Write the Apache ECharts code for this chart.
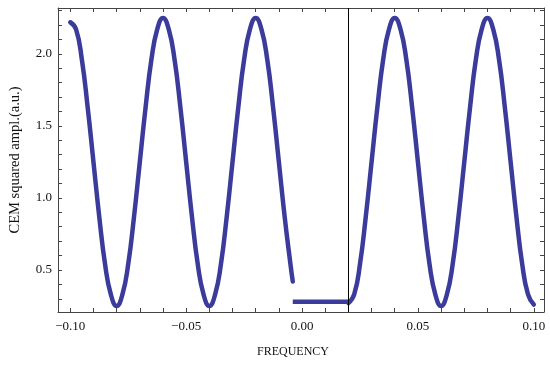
<!DOCTYPE html>
<html>
<head>
<meta charset="utf-8">
<script src="https://cdn.jsdelivr.net/npm/echarts@6/dist/echarts.min.js"></script>
<style>html,body{margin:0;padding:0;background:#fff;}#c{width:550px;height:366px;}</style>
</head>
<body>
<div id="c"></div>
<script>
const freqLeft = [-0.1000,-0.0975,-0.0950,-0.0925,-0.0900,-0.0875,-0.0850,-0.0825,-0.0800,-0.0775,-0.0750,-0.0725,-0.0700,-0.0675,-0.0650,-0.0625,-0.0600,-0.0575,-0.0550,-0.0525,-0.0500,-0.0475,-0.0450,-0.0425,-0.0400,-0.0375,-0.0350,-0.0325,-0.0300,-0.0275,-0.0250,-0.0225,-0.0200,-0.0175,-0.0150,-0.0125,-0.0100,-0.0075,-0.0050,-0.0040];
const ampLeft = [2.22,2.17,1.96,1.63,1.25,0.87,0.54,0.33,0.25,0.33,0.54,0.87,1.25,1.63,1.96,2.17,2.25,2.17,1.96,1.63,1.25,0.87,0.54,0.33,0.25,0.33,0.54,0.87,1.25,1.63,1.96,2.17,2.25,2.17,1.96,1.63,1.25,0.87,0.54,0.42];
const freqFlat = [-0.0040, 0.0200];
const ampFlat = [0.28, 0.28];
const freqRight = [0.0200,0.0225,0.0250,0.0275,0.0300,0.0325,0.0350,0.0375,0.0400,0.0425,0.0450,0.0475,0.0500,0.0525,0.0550,0.0575,0.0600,0.0625,0.0650,0.0675,0.0700,0.0725,0.0750,0.0775,0.0800,0.0825,0.0850,0.0875,0.0900,0.0925,0.0950,0.0975,0.1000];
const ampRight = [0.27,0.33,0.54,0.87,1.25,1.63,1.96,2.17,2.25,2.17,1.96,1.63,1.25,0.87,0.54,0.33,0.25,0.33,0.54,0.87,1.25,1.63,1.96,2.17,2.25,2.17,1.96,1.63,1.25,0.87,0.54,0.33,0.26];
const markerFreq = [0.02];
const xTickLabels = [-0.10,-0.05,0.00,0.05,0.10];
const xTicks = [-0.10,-0.09,-0.08,-0.07,-0.06,-0.05,-0.04,-0.03,-0.02,-0.01,0.00,0.01,0.02,0.03,0.04,0.05,0.06,0.07,0.08,0.09,0.10];
const yTickLabels = [0.5,1.0,1.5,2.0];
const yTicks = [0.3,0.4,0.5,0.6,0.7,0.8,0.9,1.0,1.1,1.2,1.3,1.4,1.5,1.6,1.7,1.8,1.9,2.0,2.1,2.2,2.3];

const zip = (a, b) => a.map((v, i) => [v, b[i]]);
const FONT = 'Liberation Serif';
const lineCol = '#3b3b9c';
const frameCol = '#444';
const xRange = { min: -0.1053, max: 0.1044 };
const yRange = { min: 0.208, max: 2.319 };

function xAx(pos, labels) {
  return {
    type: 'value', position: pos, min: xRange.min, max: xRange.max,
    name: labels ? 'FREQUENCY' : '', nameLocation: 'middle', nameGap: 34,
    nameTextStyle: { fontFamily: FONT, fontSize: 12, color: '#111', padding: [0, 16, 0, 0] },
    axisLine: { show: true, onZero: false, lineStyle: { color: frameCol, width: 1 } },
    axisTick: { show: true, inside: true, length: 4, customValues: xTicks, lineStyle: { color: frameCol } },
    axisLabel: { show: labels, customValues: xTickLabels, margin: 8.5, fontFamily: FONT, fontSize: 13, color: '#111',
      formatter: v => (v < -1e-9 ? '\u2212' : '') + Math.abs(v).toFixed(2) },
    splitLine: { show: false }
  };
}
function yAx(pos, labels) {
  return {
    type: 'value', position: pos, min: yRange.min, max: yRange.max,
    name: labels ? 'CEM squared ampl.(a.u.)' : '', nameLocation: 'middle', nameGap: 35,
    nameTextStyle: { fontFamily: FONT, fontSize: 14.5, color: '#111' },
    axisLine: { show: true, onZero: false, lineStyle: { color: frameCol, width: 1 } },
    axisTick: { show: true, inside: true, length: 4, customValues: yTicks, lineStyle: { color: frameCol } },
    axisLabel: { show: labels, customValues: yTickLabels, margin: 6, fontFamily: FONT, fontSize: 13, color: '#111',
      formatter: v => v.toFixed(1) },
    splitLine: { show: false }
  };
}

const chart = echarts.init(document.getElementById('c'), null, { renderer: 'canvas' });
chart.setOption({
  animation: false,
  backgroundColor: '#fff',
  grid: { left: 48, right: 6, top: 8, bottom: 54, containLabel: false },
  xAxis: [xAx('bottom', true), xAx('top', false)],
  yAxis: [yAx('left', true), yAx('right', false)],
  series: [
    { type: 'line', data: zip(freqLeft, ampLeft), smooth: 0.5, showSymbol: false,
      lineStyle: { color: lineCol, width: 4.5, cap: 'round' } },
    { type: 'line', data: zip(freqFlat, ampFlat), showSymbol: false,
      lineStyle: { color: lineCol, width: 4.5, cap: 'butt' } },
    { type: 'line', data: zip(freqRight, ampRight), smooth: 0.5, showSymbol: false,
      lineStyle: { color: lineCol, width: 4.5, cap: 'round' },
      markLine: { silent: true, symbol: 'none', label: { show: false },
        lineStyle: { color: '#000', width: 1, type: 'solid' },
        data: markerFreq.map(v => ({ xAxis: v })) } }
  ]
});
</script>
</body>
</html>
